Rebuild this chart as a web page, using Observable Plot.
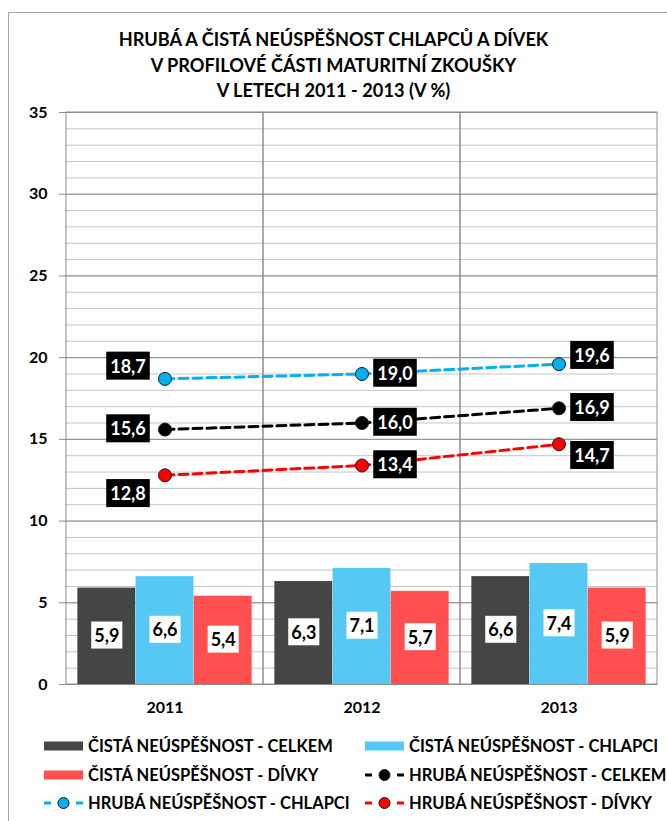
<!DOCTYPE html>
<html><head><meta charset="utf-8">
<script src="https://cdn.jsdelivr.net/npm/d3@7"></script>
<script src="https://cdn.jsdelivr.net/npm/@observablehq/plot@0.6"></script>
<style>
body{margin:0;background:#fff;font-family:Lato,"Open Sans",sans-serif;}
#wrap{position:relative;width:667px;height:821px;overflow:hidden;background:#fff;}
#frame{position:absolute;left:8px;top:12px;width:720px;height:900px;border-left:1.5px solid #a6a6a6;border-top:1.5px solid #a6a6a6;}
#title{position:absolute;top:27px;left:0;width:667px;text-align:center;font-weight:700;font-size:18.2px;line-height:25.5px;color:#000;}
#chart{position:absolute;left:0;top:100px;}
.leg{position:absolute;display:flex;align-items:center;font-weight:700;font-size:16.5px;color:#000;white-space:nowrap;}
.leg svg{margin-right:5px;}
</style>
</head><body>
<div id="wrap">
  <div id="frame"></div>
  <div id="title"></div>
  <div id="chart"></div>
  <div id="legend"></div>
</div>
<script>
// ---- data ----
const titleLines = ["HRUBÁ A ČISTÁ NEÚSPĚŠNOST CHLAPCŮ A DÍVEK", "V PROFILOVÉ ČÁSTI MATURITNÍ ZKOUŠKY", "V LETECH 2011 - 2013 (V %)"];
const years = ["2011", "2012", "2013"];
const cistaCelkem = [5.9, 6.3, 6.6];
const cistaChlapci = [6.6, 7.1, 7.4];
const cistaDivky = [5.4, 5.7, 5.9];
const hrubaCelkem = [15.6, 16.0, 16.9];
const hrubaChlapci = [18.7, 19.0, 19.6];
const hrubaDivky = [12.8, 13.4, 14.7];
const yTicks = [0, 5, 10, 15, 20, 25, 30, 35];
const seriesNames = {
  cistaCelkem: "ČISTÁ NEÚSPĚŠNOST - CELKEM",
  cistaChlapci: "ČISTÁ NEÚSPĚŠNOST - CHLAPCI",
  cistaDivky: "ČISTÁ NEÚSPĚŠNOST - DÍVKY",
  hrubaCelkem: "HRUBÁ NEÚSPĚŠNOST - CELKEM",
  hrubaChlapci: "HRUBÁ NEÚSPĚŠNOST - CHLAPCI",
  hrubaDivky: "HRUBÁ NEÚSPĚŠNOST - DÍVKY"
};

// ---- styles ----
const colors = {
  cistaCelkem: "#454545", cistaChlapci: "#55C8F3", cistaDivky: "#FF4F4F",
  hrubaCelkem: "#000000", hrubaChlapci: "#00B0F0", hrubaDivky: "#FF0000"
};
const W = 667, H = 620, ML = 65, MR = 10, MT = 12, MB = 36;
const bw = (W - ML - MR) / years.length;
const barW = bw * 0.295;
const fmt = v => d3.format(".1f")(v).replace(".", ",");
const rows = vals => years.map((y, i) => ({year: y, value: vals[i]}));

const barSeries = [
  {key: "cistaCelkem", values: cistaCelkem},
  {key: "cistaChlapci", values: cistaChlapci},
  {key: "cistaDivky", values: cistaDivky}
];
const lineSeries = [
  {key: "hrubaChlapci", values: hrubaChlapci, dy: [-12, 0, -8]},
  {key: "hrubaCelkem", values: hrubaCelkem, dy: [0, 0, 0]},
  {key: "hrubaDivky", values: hrubaDivky, dy: [19, 0, 12]}
];

document.getElementById("title").innerHTML = titleLines.map(t => `<div>${t}</div>`).join("");

const marks = [
  Plot.gridY(d3.range(0, 36), {stroke: "#c4c4c4", strokeOpacity: 1, strokeWidth: 1}),
  Plot.gridY(yTicks, {stroke: "#8c8c8c", strokeOpacity: 1, strokeWidth: 1}),
  Plot.barY(years, {x: d => d, y1: 0, y2: 35, fill: "none", stroke: "#8c8c8c", strokeWidth: 1, inset: 0})
];
barSeries.forEach((s, i) => {
  marks.push(Plot.barY(rows(s.values), {x: "year", y: "value", fill: colors[s.key], dx: (i - 1) * barW, insetLeft: (bw - barW) / 2, insetRight: (bw - barW) / 2}));
});
barSeries.forEach((s, i) => {
  marks.push(Plot.text(rows(s.values), {x: "year", y: d => d.value / 2, text: d => fmt(d.value), dx: (i - 1) * barW, fill: "#000", fontWeight: 700, fontSize: 18, ariaDescription: "bar-labels"}));
});
lineSeries.forEach(s => {
  marks.push(Plot.line(rows(s.values), {x: "year", y: "value", stroke: colors[s.key], strokeWidth: 3, strokeDasharray: "9,5"}));
});
lineSeries.forEach(s => {
  marks.push(Plot.dot(rows(s.values), {x: "year", y: "value", r: 6.5, fill: colors[s.key], stroke: "#1a1a1a", strokeWidth: 1}));
});
lineSeries.forEach(s => {
  rows(s.values).forEach((d, j) => {
    marks.push(Plot.text([d], {x: "year", y: "value", text: d => fmt(d.value), dx: j === 0 ? -37 : 33, dy: s.dy[j], fill: "#fff", fontWeight: 700, fontSize: 18, ariaDescription: "line-labels"}));
  });
});
marks.push(Plot.axisY(yTicks, {tickSize: 6, tickPadding: 12, fontSize: 16, fontWeight: 700, stroke: "#8c8c8c", fill: "#000"}));
marks.push(Plot.axisX({tickSize: 0, tickPadding: 17, fontSize: 16, fontWeight: 700, fill: "#000"}));

const chart = Plot.plot({
  width: W, height: H,
  marginLeft: ML, marginRight: MR, marginTop: MT, marginBottom: MB,
  style: {fontFamily: "Lato, 'Open Sans', sans-serif", background: "transparent", color: "#000"},
  x: {type: "band", domain: years, padding: 0, label: null},
  y: {domain: [0, 35], label: null},
  marks
});
document.getElementById("chart").appendChild(chart);

function boxes(label, fill, px, py) {
  chart.querySelectorAll(`g[aria-description="${label}"] text`).forEach(t => {
    const b = t.getBBox();
    const r = document.createElementNS("http://www.w3.org/2000/svg", "rect");
    r.setAttribute("x", b.x - px); r.setAttribute("y", b.y - py);
    r.setAttribute("width", b.width + 2 * px); r.setAttribute("height", b.height + 2 * py);
    r.setAttribute("fill", fill);
    r.setAttribute("stroke", "none");
    if (t.getAttribute("transform")) r.setAttribute("transform", t.getAttribute("transform"));
    t.parentNode.insertBefore(r, t);
  });
}
boxes("line-labels", "#000", 4, 3);
boxes("bar-labels", "#fff", 3, 2.5);

// ---- legend ----
const legendItems = [
  {key: "cistaCelkem", kind: "bar", col: 0, row: 0},
  {key: "cistaChlapci", kind: "bar", col: 1, row: 0},
  {key: "cistaDivky", kind: "bar", col: 0, row: 1},
  {key: "hrubaCelkem", kind: "line", col: 1, row: 1},
  {key: "hrubaChlapci", kind: "line", col: 0, row: 2},
  {key: "hrubaDivky", kind: "line", col: 1, row: 2}
];
const leg = document.getElementById("legend");
legendItems.forEach(it => {
  const c = colors[it.key];
  const sw = it.kind === "bar"
    ? `<svg width="39" height="14"><rect x="0" y="2.5" width="39" height="9" fill="${c}"/></svg>`
    : `<svg width="39" height="14"><line x1="0" y1="7" x2="7" y2="7" stroke="${c}" stroke-width="3"/><line x1="32" y1="7" x2="39" y2="7" stroke="${c}" stroke-width="3"/><circle cx="19.5" cy="7" r="5.5" fill="${c}" stroke="#1a1a1a" stroke-width="1"/></svg>`;
  const el = document.createElement("div");
  el.className = "leg";
  el.style.left = (it.col === 0 ? 44 : 365) + "px";
  el.style.top = (736 + it.row * 28.5) + "px";
  el.innerHTML = sw + `<span>${seriesNames[it.key]}</span>`;
  leg.appendChild(el);
});
</script>
</body></html>
